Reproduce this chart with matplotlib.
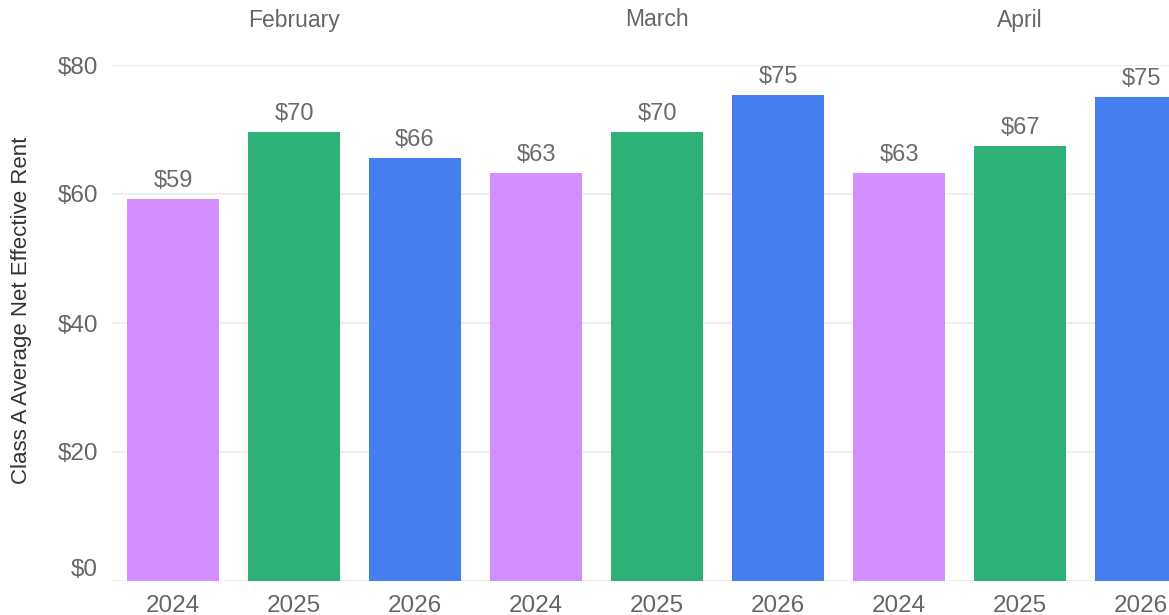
import matplotlib.pyplot as plt
import matplotlib.transforms as mtransforms

# data
months = ["February", "March", "April"]
years = ["2024", "2025", "2026"]
rent = [59.2, 69.6, 65.6, 63.3, 69.6, 75.4, 63.3, 67.4, 75.0]
bar_labels = ["$59", "$70", "$66", "$63", "$70", "$75", "$63", "$67", "$75"]
year_colors = {"2024": "#D28EFE", "2025": "#2DB177", "2026": "#457EEF"}

plt.rcParams["font.family"] = ["Liberation Sans", "DejaVu Sans"]

fig = plt.figure(figsize=(11.69, 6.15), dpi=100)
ax = fig.add_axes([112 / 1169, 34 / 615, 1 - 112 / 1169, 516 / 615])

xs = list(range(len(rent)))
cols = [year_colors[years[i % 3]] for i in xs]
bars = ax.bar(xs, rent, width=0.76, color=cols, zorder=2)

for b, lab in zip(bars, bar_labels):
    ax.annotate(lab, (b.get_x() + b.get_width() / 2, b.get_height()),
                xytext=(0, 5), textcoords="offset points",
                ha="center", va="bottom", fontsize=17, color="#6b6b6b")

# month headers above the middle bar of each group
for k, m in enumerate(months):
    ax.text(3 * k + 1, 1.0 + 45 / 516, m, transform=ax.get_xaxis_transform(),
            ha="center", va="center", fontsize=16.5, color="#666666")

ax.set_xlim(-0.504, 8.23)
ax.set_ylim(0, 80)
ax.set_yticks([0, 20, 40, 60, 80])
ax.set_yticklabels(["$0", "$20", "$40", "$60", "$80"])
ax.set_xticks(xs)
ax.set_xticklabels([years[i % 3] for i in xs])

ax.grid(axis="y", color="#efefef", linewidth=1.6, zorder=0)
for s in ax.spines.values():
    s.set_visible(False)
ax.tick_params(axis="both", length=0, labelsize=17.5, labelcolor="#666666")
ax.tick_params(axis="y", pad=10)
ax.tick_params(axis="x", pad=10)

# lift the $0 label like the original
lab0 = ax.get_yticklabels()[0]
lab0.set_transform(lab0.get_transform() + mtransforms.ScaledTranslation(0, 14 / 100, fig.dpi_scale_trans))

ax.set_ylabel("Class A Average Net Effective Rent", fontsize=16, color="#333333")
ax.yaxis.set_label_coords(-0.076, 0.525)

fig.savefig("out.png", dpi=100)
